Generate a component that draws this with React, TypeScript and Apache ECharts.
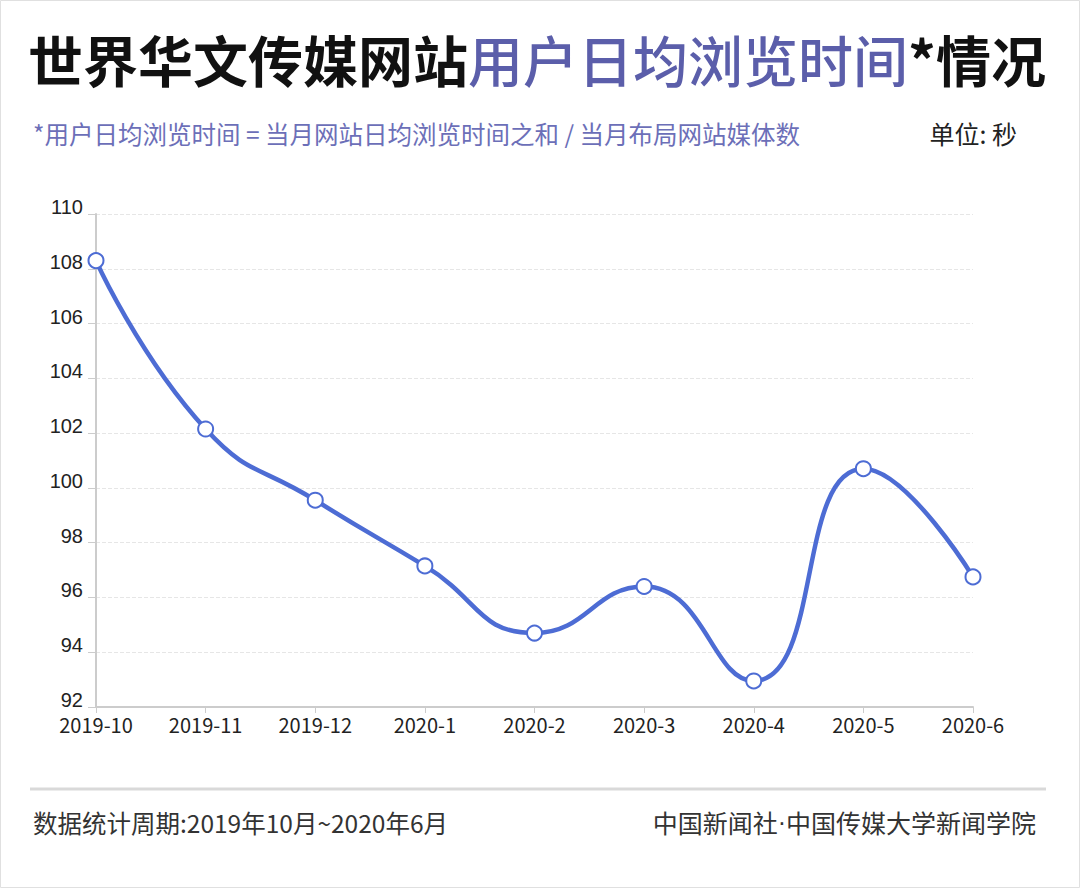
import React, { useEffect, useRef } from "react";
import * as echarts from "echarts";

const months = ["2019-10", "2019-11", "2019-12", "2020-1", "2020-2", "2020-3", "2020-4", "2020-5", "2020-6"];
const browseSeconds = [108.3, 102.15, 99.55, 97.15, 94.7, 96.4, 92.95, 100.7, 96.75];
const yTicks = { min: 92, max: 110, interval: 2 };

const titleBlack1 = "世界华文传媒网站";
const titleBlue = "用户日均浏览时间";
const titleBlack2 = "*情况";
const subtitle = "*用户日均浏览时间 = 当月网站日均浏览时间之和 / 当月布局网站媒体数";
const unitText = "单位: 秒";
const footerLeft = "数据统计周期:2019年10月~2020年6月";
const footerRightA = "中国新闻社";
const footerRightB = "中国传媒大学新闻学院";

const CJK = '"Noto Sans CJK SC", "Noto Sans", sans-serif';
const LATIN = '"Liberation Sans", Arial, sans-serif';

export default function App() {
  const ref = useRef<HTMLDivElement>(null);
  useEffect(() => {
    if (!ref.current) return;
    const chart = echarts.init(ref.current, null, { renderer: "svg" });
    chart.setOption({
      animation: false,
      backgroundColor: "#ffffff",
      grid: { left: 96, right: 107, top: 214, bottom: 181 },
      xAxis: {
        type: "category",
        data: months,
        boundaryGap: false,
        axisLine: { lineStyle: { color: "#cccccc", width: 2 } },
        axisTick: { show: true, alignWithLabel: true, length: 6, lineStyle: { color: "#cccccc" } },
        axisLabel: { color: "#222222", fontSize: 20, fontFamily: CJK, margin: 7 },
        splitLine: { show: false },
      },
      yAxis: {
        type: "value",
        min: yTicks.min,
        max: yTicks.max,
        interval: yTicks.interval,
        axisLine: { show: true, lineStyle: { color: "#cccccc", width: 2 } },
        axisTick: { show: true, length: 8, lineStyle: { color: "#cccccc" } },
        axisLabel: {
          color: "#222222",
          fontSize: 20,
          fontFamily: LATIN,
          margin: 13,
          verticalAlign: "bottom",
          lineHeight: 14,
        },
        splitLine: { show: true, lineStyle: { color: "#e6e6e6", type: "dashed", width: 1 } },
      },
      series: [
        {
          type: "line",
          data: browseSeconds,
          smooth: true,
          symbol: "emptyCircle",
          symbolSize: 15,
          lineStyle: { color: "#4d6cd4", width: 4.5 },
          itemStyle: { color: "#4d6cd4", borderColor: "#4d6cd4", borderWidth: 3 },
        },
      ],
      graphic: [
        {
          type: "rect",
          shape: { x: 0.5, y: 0.5, width: 1079, height: 887 },
          style: { fill: "none", stroke: "#e0e0e0", lineWidth: 1 },
          silent: true,
        },
        {
          type: "text",
          x: 28,
          y: 58,
          style: {
            text: `{a|${titleBlack1}}{b|${titleBlue}}{a|${titleBlack2}}`,
            verticalAlign: "middle",
            rich: {
              a: { fontSize: 55, fontFamily: CJK, fontWeight: "bold", fill: "#111111" },
              b: { fontSize: 55, fontFamily: CJK, fontWeight: 500, fill: "#5b5eaa" },
            },
          },
        },
        {
          type: "text",
          x: 33,
          y: 133,
          style: { text: subtitle, fontSize: 24.5, fontFamily: CJK, fill: "#6c6fb8", verticalAlign: "middle" },
        },
        {
          type: "text",
          x: 1017,
          y: 133,
          style: { text: unitText, fontSize: 25, fontFamily: CJK, fill: "#222222", align: "right", verticalAlign: "middle" },
        },
        {
          type: "line",
          shape: { x1: 30, y1: 789, x2: 1046, y2: 789 },
          style: { stroke: "#d9d9d9", lineWidth: 3 },
        },
        {
          type: "text",
          x: 33,
          y: 822,
          style: { text: footerLeft, fontSize: 24.5, fontFamily: CJK, fill: "#333333", verticalAlign: "middle" },
        },
        {
          type: "text",
          x: 1036,
          y: 822,
          style: {
            text: `{a|${footerRightA}}{d|·}{a|${footerRightB}}`,
            align: "right",
            verticalAlign: "middle",
            rich: {
              a: { fontSize: 25, fontFamily: CJK, fill: "#333333" },
              d: { fontSize: 25, fontFamily: LATIN, fill: "#333333" },
            },
          },
        },
      ],
    });
    return () => chart.dispose();
  }, []);
  return <div ref={ref} style={{ position: "fixed", left: 0, top: 0, width: 1080, height: 888 }} />;
}
